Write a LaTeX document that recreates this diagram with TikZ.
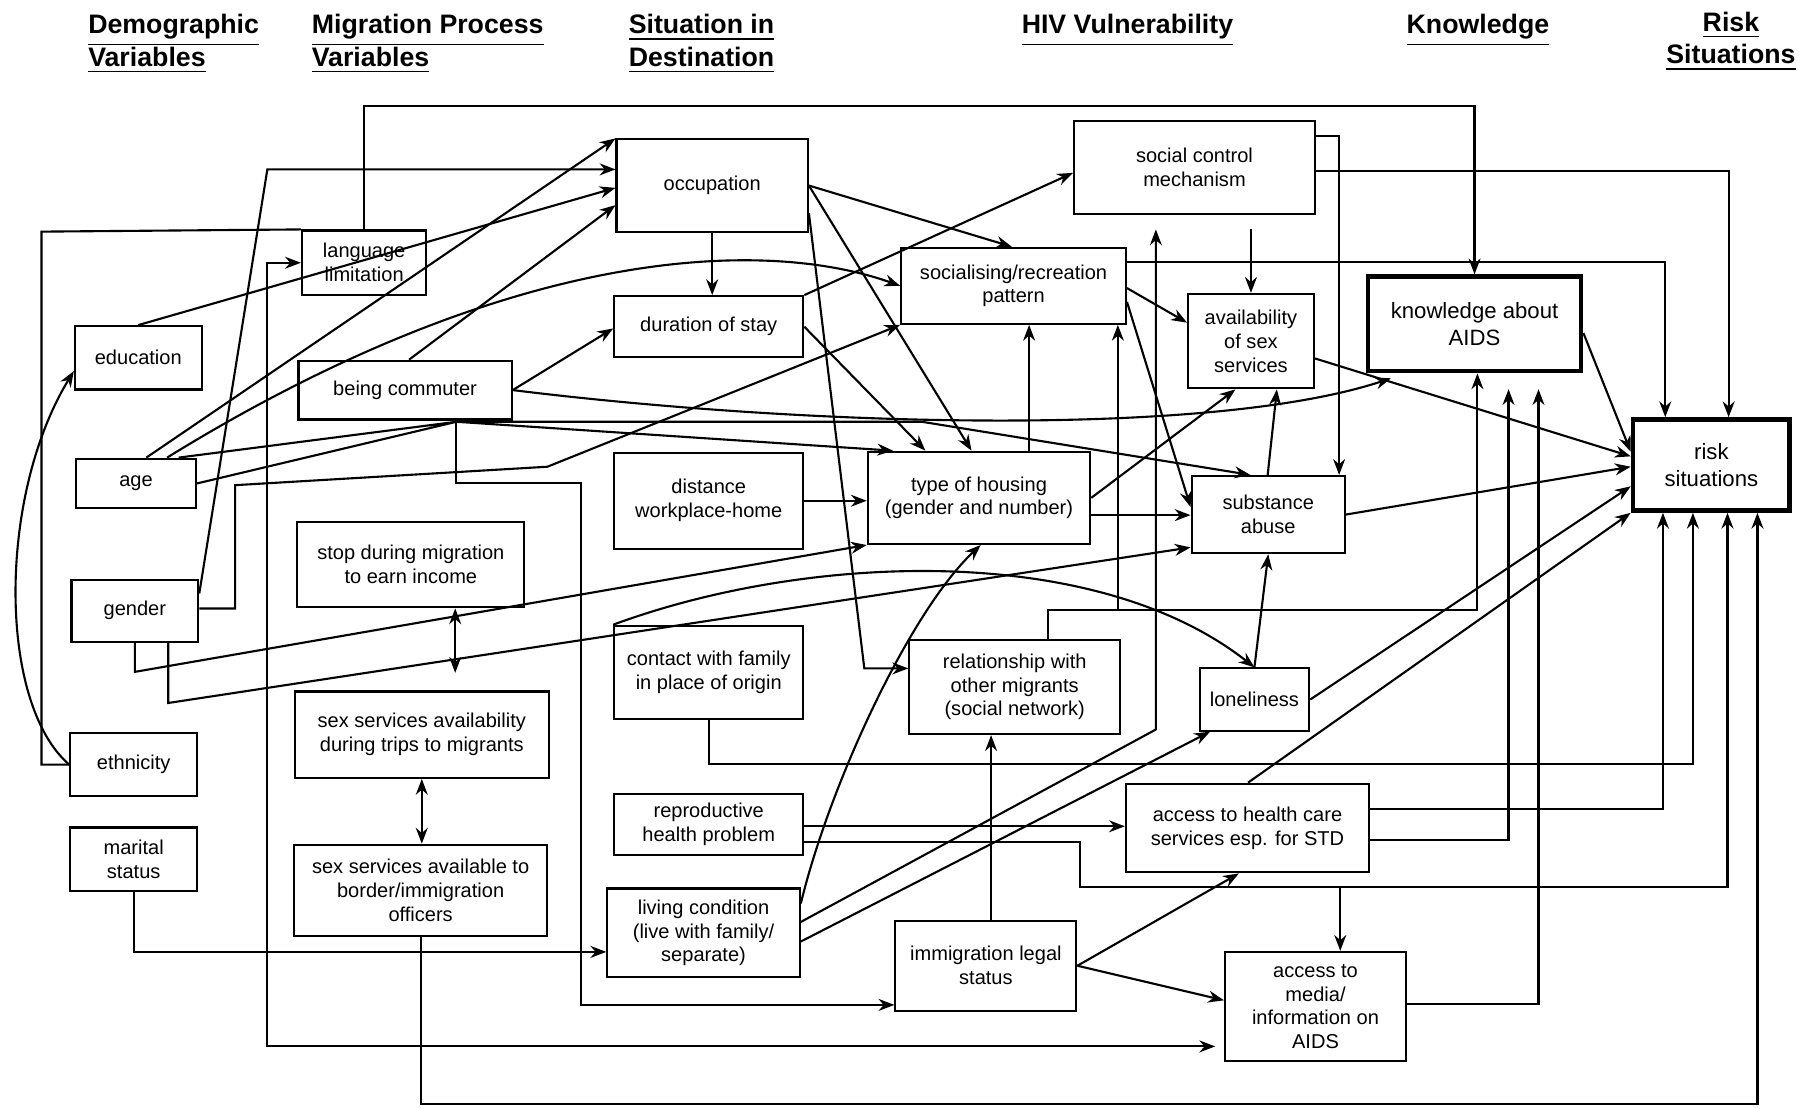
\documentclass[tikz,border=0pt]{standalone}
\usepackage{fontspec}
\setmainfont{Liberation Sans}
\usetikzlibrary{arrows.meta, positioning, calc}
\newcommand{\unitpx}{0.011524cm}
\tikzset{
  flow/.style={
	->, % every connector is directed
	>={Stealth[length=4.5pt,width=3.4pt]}, % solid arrow heads
	line width=0.6pt,
  },
  plainline/.style={line width=0.6pt}, % connector without a head
  box/.style={draw, line width=0.6pt, align=center, inner sep=1pt, font=\fontsize{5.7}{6.8}\selectfont},
  boldbox/.style={box, line width=1.3pt, font=\fontsize{6.3}{7.6}\selectfont}, % the two outcome boxes
  dims/.style 2 args={minimum width=#1*\unitpx, minimum height=#2*\unitpx},
  header/.style={align=left, anchor=north west, inner sep=0pt, font=\fontsize{7.6}{9.2}\selectfont\bfseries},
}

\begin{document}
\begin{tikzpicture}[x=\unitpx, y=-\unitpx]
	  \useasboundingbox (0,0) rectangle (1568,962);
	  % column headings
	  \node[header] (hdemo) at (76,12) {\underline{Demographic}\\\underline{Variables}};
	  \node[header] (hmig) at (270,12) {\underline{Migration Process}\\\underline{Variables}};
	  \node[header] (hsit) at (545,12) {\underline{Situation in}\\\underline{Destination}};
	  \node[header] (hhiv) at (886,12) {\underline{HIV Vulnerability}};
	  \node[header] (hknow) at (1220,12) {\underline{Knowledge}};
	  \node[header, align=center, anchor=north] (hrisk) at (1502,10) {\underline{Risk}\\\underline{Situations}};

	  % demographic variables
	  \node[box, dims={110}{55}] (edu) at (120,310.5) {education};
	  \node[box, dims={104}{43}] (age) at (118,419.5) {age};
	  \node[box, dims={110}{54}] (gen) at (117,530) {gender};
	  \node[box, dims={110}{55}] (eth) at (116,663.5) {ethnicity};
	  \node[box, dims={110}{55}] (mar) at (116,745.5) {marital\\status};
	  % migration process variables
	  \node[box, dims={108}{56}] (lang) at (316,228) {language\\limitation};
	  \node[box, dims={185}{51}] (comm) at (351.5,338.5) {being commuter};
	  \node[box, dims={197}{74}] (stop) at (356.5,490) {stop during migration\\to earn income};
	  \node[box, dims={220}{75}] (trip) at (366,637.5) {sex services availability\\during trips to migrants};
	  \node[box, dims={220}{79}] (bord) at (365,772.5) {sex services available to\\border/immigration\\officers};
	  % situation in destination
	  \node[box, dims={166}{80}] (occ) at (618,161) {occupation};
	  \node[box, dims={164}{53}] (dur) at (615,283.5) {duration of stay};
	  \node[box, dims={164}{83}] (dist) at (615,434.5) {distance\\workplace-home};
	  \node[box, dims={164}{81}] (cont) at (615,583.5) {contact with family\\in place of origin};
	  \node[box, dims={164}{53}] (repr) at (615,715.5) {reproductive\\health problem};
	  \node[box, dims={167}{77}] (liv) at (610.5,809.5) {living condition\\(live with family/\\separate)};
	  \node[box, dims={195}{66}] (soc) at (879.5,248) {socialising/recreation\\pattern};
	  \node[box, dims={193}{80}] (hous) at (849.5,432) {type of housing\\(gender and number)};
	  \node[box, dims={183}{82}] (rel) at (880.5,596) {relationship with\\other migrants\\(social network)};
	  \node[box, dims={157}{78}] (legal) at (855.5,838) {immigration legal\\status};
	  % HIV vulnerability
	  \node[box, dims={209}{81}] (ctrl) at (1036.5,145.5) {social control\\mechanism};
	  \node[box, dims={109}{82}] (avail) at (1085.5,296) {availability\\of sex\\services};
	  \node[box, dims={133}{67}] (subst) at (1100.5,446.5) {substance\\abuse};
	  \node[box, dims={95}{54}] (lone) at (1088.5,607) {loneliness};
	  \node[box, dims={211}{77}] (hcare) at (1082.5,718.5) {access to health care\\services esp. for STD};
	  \node[box, dims={157}{95}] (media) at (1141.5,873.5) {access to\\media/\\information on\\AIDS};
	  % knowledge and risk
	  \node[boldbox, dims={185}{82}] (know) at (1279.5,281) {knowledge about\\AIDS};
	  \node[boldbox, dims={136}{79}] (risk) at (1485,403.5) {risk\\situations};

	  \coordinate (jct) at (396,366);
	  \coordinate (rj) at (1163,770);
	  \coordinate (rn) at (909,529);
	  \coordinate (rs) at (970,529);

	  % demographic links
	  \draw[flow] (eth.west) .. controls (-2,610) and (-2,430) .. (edu.west |- 0,322);
	  \draw[plainline] (eth.west) -| (36,201) -- (lang.north west);
	  \draw[flow] (mar.south) |- (liv.west |- 0,826);
	  \draw[flow] (gen.east |- 0,515) -- (232,147) -- (occ.west |- 0,147);
	  \draw[flow] (gen.east |- 0,528) -- (204,528) -- (204,421) -- (475,405) -- (soc.south west);
	  \draw[flow] (gen.south) -- (117,583) -- (hous.south west);
	  \draw[flow] (146,0 |- gen.south) -- (146,610) -- (subst.west |- 0,475);
	  \draw[flow] (127,0 |- age.north) -- (occ.north west);
	  \draw[flow] (145,0 |- age.north) .. controls (440,215) and (660,205) .. (soc.west);
	  \draw[plainline] (155,0 |- age.north) -- (jct) (age.east) -- (jct);
	  \draw[flow] (edu.north) -- (occ.west |- 0,163);

	  % migration process links
	  \draw[flow] (jct) -- (775,0 |- hous.north);
	  \draw[flow] (jct) -- (800,366) -- (1085,0 |- subst.north);
	  \draw[flow] (jct) -- (396,419) -- (504,419) |- (legal.west |- 0,872);
	  \draw[flow] (355,0 |- comm.north) -- (occ.west |- 0,178);
	  \draw[flow] (comm.east) -- (dur.west |- 0,285);
	  \draw[flow, shorten >=4.5pt] (comm.east) .. controls (700,370) and (1050,380) .. (1220,0 |- know.south);
	  \draw[flow] (lang.north) -- (lang.north |- 0,92) -| (know.north);
	  \draw[flow, <->, shorten >=2.5pt] (lang.west |- 0,228) -- (232,228) -- (232,908) -- (media.west |- 0,908);
	  \draw[flow, <->, shorten >=5pt] (395,0 |- stop.south) -- (395,0 |- trip.north);
	  \draw[flow, <->] (trip.south) -- (trip.south |- bord.north);
	  \draw[flow] (bord.south) |- (1525,958) -- (1525,0 |- risk.south);

	  % situation in destination links
	  \draw[flow] (occ.south) -- (occ.south |- dur.north);
	  \draw[flow] (occ.east) -- (878,0 |- soc.north);
	  \draw[flow] (occ.east) -- (843,0 |- hous.north);
	  \draw[flow] (occ.east |- 0,185) -- (750,580) -- (rel.west |- 0,580);
	  \draw[flow] (dur.north east) -- (ctrl.west |- 0,150);
	  \draw[flow] (dur.east) -- (803,0 |- hous.north);
	  \draw[flow] (dist.east) -- (hous.west |- dist.east);
	  \draw[flow] (cont.south) |- (1469,663) -- (1469,0 |- risk.south);
	  \draw[flow] (cont.north west) .. controls (700,480) and (950,470) .. (lone.north);
	  \draw[flow] (repr.east |- 0,717) -- (hcare.west |- 0,717);
	  \draw[flow] (repr.east |- 0,731) -- (937,731) -- (937,770) -- (rj) -- (1499,770) -- (1499,0 |- risk.south);
	  \draw[flow] (rj) -- (rj |- media.north);
	  \draw[flow] (liv.east |- 0,784) .. controls (720,680) and (790,530) .. (851,0 |- hous.south);
	  \draw[flow, shorten >=4pt] (liv.east |- 0,800) -- (1003,633) -- (1003,0 |- ctrl.south);
	  \draw[flow] (liv.east |- 0,817) -- (1050,0 |- lone.south);
	  \draw[flow] (860,0 |- legal.north) -- (860,0 |- rel.south);
	  \draw[flow] (legal.east) -- (1075,0 |- hcare.south);
	  \draw[flow] (legal.east) -- (media.west |- 0,868);
	  \draw[flow] (893,0 |- hous.north) -- (893,0 |- soc.south);
	  \draw[flow] (hous.east |- 0,432) -- (1072,0 |- avail.south);
	  \draw[flow] (hous.east |- 0,447) -- (subst.west |- 0,447);
	  \draw[flow] (soc.east |- 0,250) -- (avail.west |- 0,280);
	  \draw[flow] (soc.east |- 0,262) -- (subst.west |- 0,440);
	  \draw[flow] (soc.east |- 0,227) -| (1445,0 |- risk.north);
	  \draw[flow] (909,0 |- rel.north) -- (rn) -- (1282,529) -- (1282,0 |- know.south);
	  \draw[flow] (rs) -- (rs |- soc.south);

	  % HIV vulnerability links
	  \draw[flow] (ctrl.east |- 0,118) -- (1162,118) -- (1162,0 |- subst.north);
	  \draw[flow] (ctrl.east |- 0,148) -| (1500,0 |- risk.north);
	  \draw[flow, shorten <=4pt] (avail.north |- ctrl.south) -- (avail.north);
	  \draw[flow] (avail.east |- 0,311) -- (risk.west |- 0,396);
	  \draw[flow] (1100,0 |- subst.north) -- (1108,0 |- avail.south);
	  \draw[flow] (subst.east) -- (risk.west |- 0,405);
	  \draw[flow] (lone.north) -- (subst.south);
	  \draw[flow] (lone.east) -- (risk.west |- 0,422);
	  \draw[flow] (1083,0 |- hcare.north) -- (risk.south west);
	  \draw[flow, shorten >=4.5pt] (hcare.east |- 0,729) -| (1309,0 |- know.south);
	  \draw[flow] (hcare.east |- 0,702) -| (1443,0 |- risk.south);
	  \draw[flow, shorten >=4.5pt] (media.east |- 0,871) -| (1335,0 |- know.south);
	  \draw[flow] (know.east |- 0,289) -- (risk.west |- 0,392);
\end{tikzpicture}
\end{document}
